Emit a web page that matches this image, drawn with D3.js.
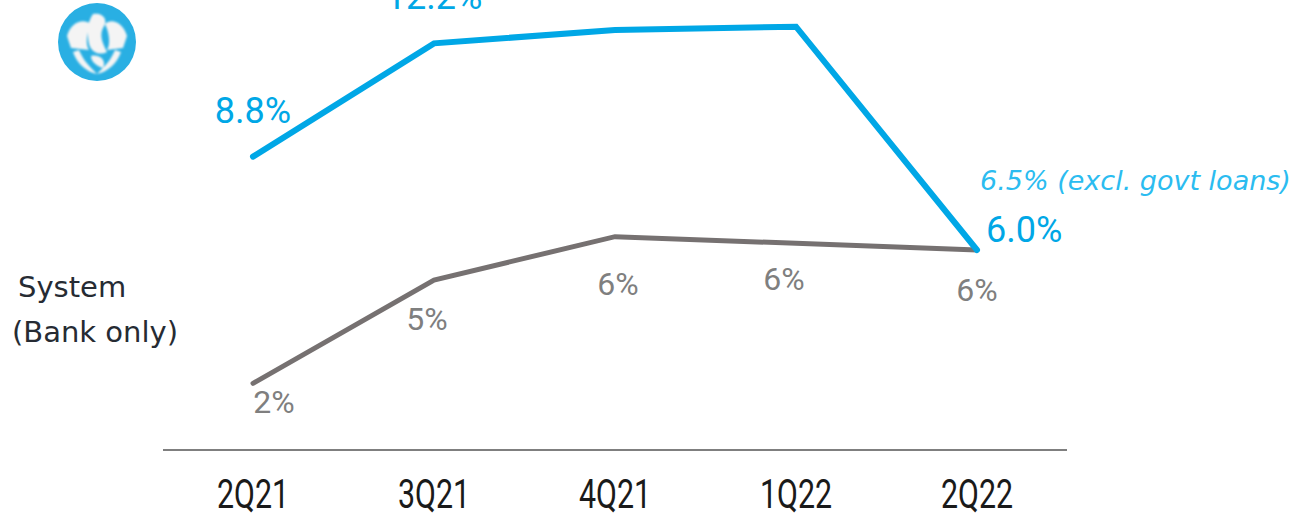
<!DOCTYPE html>
<html>
<head>
<meta charset="utf-8">
<script src="https://cdn.jsdelivr.net/npm/d3@7"></script>
<style>
  html, body { margin: 0; padding: 0; background: #fff; overflow: hidden; }
  svg { display: block; }
</style>
</head>
<body>
<div id="chart"></div>
<script>
// quarters on the x axis
const quarters = ["2Q21", "3Q21", "4Q21", "1Q22", "2Q22"];
// bank loan growth (% YoY), blue line
const bankValues = [8.8, 12.2, 12.6, 12.7, 6.0];
// system (bank only), grey line
const systemValues = [2.0, 5.1, 6.4, 6.2, 6.0];
// which bank points carry a value label
const bankLabelShown = [true, true, false, false, true];
const bankNote = "6.5% (excl. govt loans)";

const width = 1310, height = 517;
const blue = "#00a7e6", grey = "#767171";

const svg = d3.select("#chart")
  .append("svg")
  .attr("width", width)
  .attr("height", height);

const x = d3.scalePoint()
  .domain(quarters)
  .range([253, 977]);

const y = d3.scaleLinear()
  .domain([0, 13.5])
  .range([450, 0]);

// baseline
svg.append("line")
  .attr("x1", 163).attr("x2", 1067)
  .attr("y1", y(0)).attr("y2", y(0))
  .attr("stroke", "#7f7f7f")
  .attr("stroke-width", 2);

// x labels - narrow face, squeezed horizontally
svg.append("g")
  .attr("font-family", "Roboto, sans-serif")
  .attr("font-size", 40)
  .attr("fill", "#1a1a1a")
  .attr("text-anchor", "middle")
  .selectAll("text")
  .data(quarters)
  .join("text")
  .attr("transform", d => `translate(${x(d)},508) scale(0.76,1)`)
  .text(d => d);

const line = d3.line()
  .x((d, i) => x(quarters[i]))
  .y(d => y(d));

svg.append("path")
  .datum(systemValues)
  .attr("fill", "none")
  .attr("stroke", grey)
  .attr("stroke-width", 5)
  .attr("stroke-linecap", "round")
  .attr("d", line);

svg.append("path")
  .datum(bankValues)
  .attr("fill", "none")
  .attr("stroke", blue)
  .attr("stroke-width", 6)
  .attr("stroke-linecap", "round")
  .attr("d", line);

// grey value labels (small nudges to sit like the original)
const sysNudge = [[21, 30], [-7, 50], [3, 58], [-12, 47], [0, 51]];
svg.append("g")
  .attr("font-family", "Roboto, sans-serif")
  .attr("font-size", 32)
  .attr("fill", "#7f7f7f")
  .attr("text-anchor", "middle")
  .selectAll("text")
  .data(systemValues)
  .join("text")
  .attr("x", (d, i) => x(quarters[i]) + sysNudge[i][0])
  .attr("y", (d, i) => y(d) + sysNudge[i][1])
  .text(d => d3.format(".0f")(d) + "%");

// blue value labels
svg.append("g")
  .attr("font-family", "Roboto, sans-serif")
  .attr("font-size", 36)
  .attr("fill", blue)
  .selectAll("text")
  .data(bankValues.map((v, i) => ({ v, i })).filter(d => bankLabelShown[d.i]))
  .join("text")
  .attr("text-anchor", d => d.i === quarters.length - 1 ? "start" : "middle")
  .attr("x", d => x(quarters[d.i]) + (d.i === quarters.length - 1 ? 9 : 0))
  .attr("y", d => y(d.v) - (d.i === quarters.length - 1 ? 8 : 34))
  .text(d => d3.format(".1f")(d.v) + "%");

svg.append("text")
  .attr("x", 980)
  .attr("y", 190)
  .attr("font-family", "'DejaVu Sans', sans-serif")
  .attr("font-style", "italic")
  .attr("font-size", 27)
  .attr("fill", "#2bbcf0")
  .text(bankNote);

// series name on the left
svg.append("g")
  .attr("font-family", "'DejaVu Sans', sans-serif")
  .attr("font-size", 29)
  .attr("fill", "#262b33")
  .selectAll("text")
  .data(["System", "(Bank only)"])
  .join("text")
  .attr("x", (d, i) => i ? 12 : 18)
  .attr("y", (d, i) => 297 + i * 45)
  .text(d => d);

// bank emblem (rough)
const logo = svg.append("g").attr("transform", "translate(97,42)");
const defs = svg.append("defs");
defs.append("filter").attr("id", "soft")
  .append("feGaussianBlur").attr("stdDeviation", 1.2);
logo.append("circle").attr("r", 39).attr("fill", "#29afe3");
const emblem = logo.append("g").attr("fill", "#f4f4f4").attr("filter", "url(#soft)");
emblem.append("path").attr("d", "M-30,-6 C-26,-20 -14,-24 -6,-18 C-10,-10 -12,2 -8,8 L-26,6 Z");
emblem.append("path").attr("d", "M30,-6 C26,-20 14,-24 8,-18 C12,-10 14,2 10,8 L26,6 Z");
emblem.append("path").attr("d", "M-4,-28 C6,-30 12,-22 6,-14 C2,-6 6,2 10,10 C2,14 -6,10 -8,2 C-10,-8 -10,-20 -4,-28 Z");
emblem.append("path").attr("d", "M-24,10 C-20,22 -10,30 0,32 C-8,24 -14,18 -18,8 Z");
emblem.append("path").attr("d", "M24,10 C20,22 10,30 0,32 C8,24 14,18 18,8 Z");
emblem.append("path").attr("d", "M-6,14 C2,12 10,18 6,26 C0,24 -6,20 -6,14 Z");
</script>
</body>
</html>
